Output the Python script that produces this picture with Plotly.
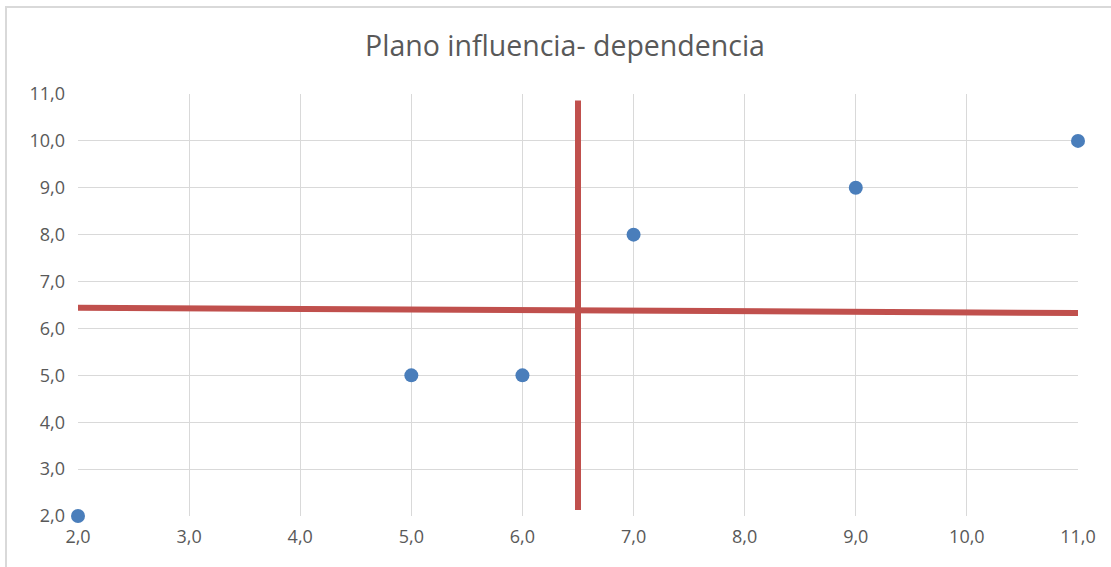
import plotly.graph_objects as go

# Data
influencia = [2, 5, 6, 7, 9, 11]
dependencia = [2, 5, 5, 8, 9, 10]

# Division lines of the plane
h_line_x = [2.0, 11.0]
h_line_y = [6.44, 6.33]
v_line_x = [6.5, 6.5]
v_line_y = [2.13, 10.86]

title_text = "Plano influencia- dependencia"
tick_vals = [2, 3, 4, 5, 6, 7, 8, 9, 10, 11]

W, H = 1111, 567
ml, mr, mt, mb = 78, 33, 94, 51

fig = go.Figure()
fig.add_trace(go.Scatter(x=h_line_x, y=h_line_y, mode="lines",
                         line=dict(color="#c0504d", width=6), showlegend=False,
                         cliponaxis=False))
fig.add_trace(go.Scatter(x=v_line_x, y=v_line_y, mode="lines",
                         line=dict(color="#c0504d", width=6), showlegend=False,
                         cliponaxis=False))
fig.add_trace(go.Scatter(x=influencia, y=dependencia, mode="markers",
                         marker=dict(size=14, color="#4a7ebb"), showlegend=False,
                         cliponaxis=False))

pw = W - ml - mr
ph = H - mt - mb
fig.add_shape(type="rect", xref="paper", yref="paper",
              x0=(6 - ml) / pw, x1=(1125 - ml) / pw,
              y0=(H - mb - 580) / ph, y1=(H - mb - 7) / ph,
              line=dict(color="#d9d9d9", width=2), layer="below")

axis_common = dict(
    tickvals=tick_vals, tickformat=".1f",
    showgrid=True, gridcolor="#d9d9d9", gridwidth=1,
    zeroline=False, showline=False, ticks="",
    tickfont=dict(family="Open Sans, sans-serif", size=18, color="#595959"),
)
fig.update_xaxes(range=[2, 11], **axis_common, ticklabelstandoff=8)
fig.update_yaxes(range=[2, 11], **axis_common, ticklabelstandoff=12)

fig.update_layout(
    width=W, height=H,
    margin=dict(l=ml, r=mr, t=mt, b=mb),
    paper_bgcolor="white", plot_bgcolor="white",
    separators=",.",
    title=dict(text=title_text, x=565 / W, xanchor="center", y=1 - 46 / H, yanchor="middle",
               font=dict(family="Open Sans, sans-serif", size=28.5, color="#595959")),
)

fig.write_html("out.html", config={"displayModeBar": False},
               post_script="document.body.style.margin='0';document.body.style.overflow='hidden';")
